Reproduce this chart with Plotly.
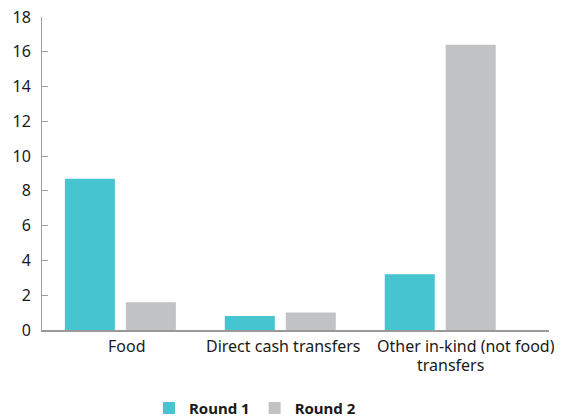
import plotly.graph_objects as go

categories = ["Food", "Direct cash transfers", "Other in-kind (not food)<br>transfers"]
round1 = [8.7, 0.8, 3.2]
round2 = [1.6, 1.0, 16.4]
series_names = ["Round 1", "Round 2"]
y_ticks = [0, 2, 4, 6, 8, 10, 12, 14, 16, 18]

# horizontal nudges (px) of each label line, mimicking the reference layout
label_shifts = [[6.5], [3], [26, 10.5]]

FONT = "Noto Sans"
TXT = "#1a1a1a"
fig = go.Figure()
fig.add_trace(go.Bar(x=categories, y=round1, name=series_names[0], marker_color="#46C4CF", marker_line_width=0))
fig.add_trace(go.Bar(x=categories, y=round2, name=series_names[1], marker_color="#C1C2C4", marker_line_width=0))

for cat, shifts in zip(categories, label_shifts):
    for i, line in enumerate(cat.split("<br>")):
        fig.add_annotation(
            x=cat, xref="x", y=0, yref="paper", text=line, showarrow=False,
            xanchor="center", yanchor="middle", xshift=shifts[i], yshift=-16 - 19 * i,
            height=16, borderpad=0,
            font=dict(family=FONT, size=16, color=TXT),
        )

fig.update_layout(
    width=566, height=418,
    margin=dict(l=42, r=17, t=17, b=88, autoexpand=False),
    barmode="group", bargap=0.2375, bargroupgap=0.18,
    plot_bgcolor="white", paper_bgcolor="white",
    font=dict(family=FONT, size=16, color=TXT),
    showlegend=True,
    legend=dict(orientation="h", x=0.42, xanchor="center", y=-0.25, yanchor="middle",
                font=dict(family=FONT, size=15, color=TXT, weight="bold"),
                itemwidth=30, traceorder="normal"),
)
fig.update_xaxes(
    type="category", range=[-0.49, 2.68], automargin=False,
    showline=True, linecolor="#999999", linewidth=2,
    ticks="", showgrid=False, showticklabels=False,
)
fig.update_yaxes(
    range=[0, 18], tickvals=y_ticks, automargin=False,
    showline=True, linecolor="#A0A0A0", linewidth=1,
    ticks="inside", ticklen=6, tickcolor="#A0A0A0",
    showgrid=False, zeroline=False, ticklabelstandoff=7,
    tickfont=dict(family=FONT, size=16, color=TXT),
)
fig.write_html("out.html", config={"displayModeBar": False},
               post_script="document.body.style.margin='0px';")
